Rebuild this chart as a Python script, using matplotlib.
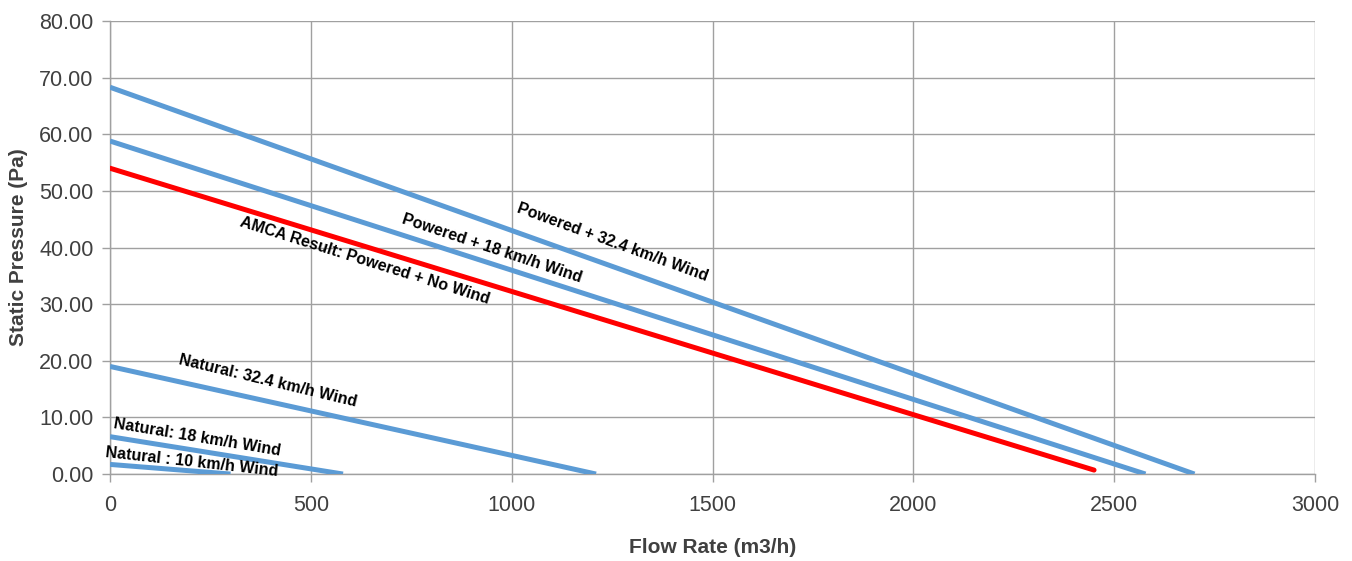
import numpy as np
import matplotlib
matplotlib.use('Agg')
from matplotlib import pyplot as plt

plt.rcParams['font.family'] = ['Liberation Sans', 'DejaVu Sans']

# curve end points: (flow m3/h, static pressure Pa)
pw_324_x = [0, 2700]
pw_324_y = [68.3, 0.0]
pw_18_x = [0, 2578]
pw_18_y = [58.8, 0.0]
amca_x = [0, 2450]
amca_y = [54.0, 0.7]
nat_324_x = [0, 1210]
nat_324_y = [19.0, 0.0]
nat_18_x = [0, 580]
nat_18_y = [6.6, 0.0]
nat_10_x = [0, 300]
nat_10_y = [1.7, 0.0]

# labels: text, x, y, angle
labels = [
    ("Powered + 32.4 km/h Wind", 1251, 41.0, -20.0),
    ("Powered + 18 km/h Wind", 952, 39.8, -18.4),
    ("AMCA Result: Powered + No Wind", 633, 37.6, -17.4),
    ("Natural: 32.4 km/h Wind", 394, 16.4, -13.5),
    ("Natural: 18 km/h Wind", 216, 6.4, -9.4),
    ("Natural : 10 km/h Wind", 204, 2.1, -6.3),
]

xticks = [0, 500, 1000, 1500, 2000, 2500, 3000]
yticks = [0, 10, 20, 30, 40, 50, 60, 70, 80]

blue = '#5B9BD5'
red = '#FF0000'

fig = plt.figure(figsize=(13.52, 5.61), dpi=100)
ax = fig.add_axes([0.0814, 0.155, 0.8912, 0.8076])

for xs, ys in [(pw_324_x, pw_324_y), (pw_18_x, pw_18_y), (nat_324_x, nat_324_y),
               (nat_18_x, nat_18_y), (nat_10_x, nat_10_y)]:
    ax.plot(xs, ys, color=blue, lw=3.6, solid_capstyle='butt', zorder=3)
ax.plot(amca_x, amca_y, color=red, lw=3.6, solid_capstyle='round', zorder=4)

for t, x, y, a in labels:
    ax.text(x, y, t, rotation=a, rotation_mode='anchor', ha='center', va='center',
            fontsize=11.5, fontweight='bold', color='black', zorder=5)

ax.set_xlim(0, 3000)
ax.set_ylim(0, 80)
ax.set_xticks(xticks)
ax.set_yticks(yticks)
ax.set_xticklabels([str(v) for v in xticks])
ax.set_yticklabels(['%.2f' % v for v in yticks])
ax.grid(True, color='#a0a0a0', lw=1.0, zorder=0)
ax.set_axisbelow(True)
for s in ['top', 'right']:
    ax.spines[s].set_visible(False)
for s in ['left', 'bottom']:
    ax.spines[s].set_color('#a0a0a0')
    ax.spines[s].set_linewidth(1.0)
ax.tick_params(axis='both', colors='#a0a0a0', labelcolor='#404040', labelsize=15.5,
               length=6, width=1.0, direction='out')
ax.tick_params(axis='x', pad=9)
ax.tick_params(axis='y', pad=6)

ax.set_xlabel('Flow Rate (m3/h)', fontsize=15, fontweight='bold', color='#404040', labelpad=16)
ax.set_ylabel('Static Pressure (Pa)', fontsize=15, fontweight='bold', color='#404040', labelpad=8)

fig.savefig('out.png', dpi=100)
